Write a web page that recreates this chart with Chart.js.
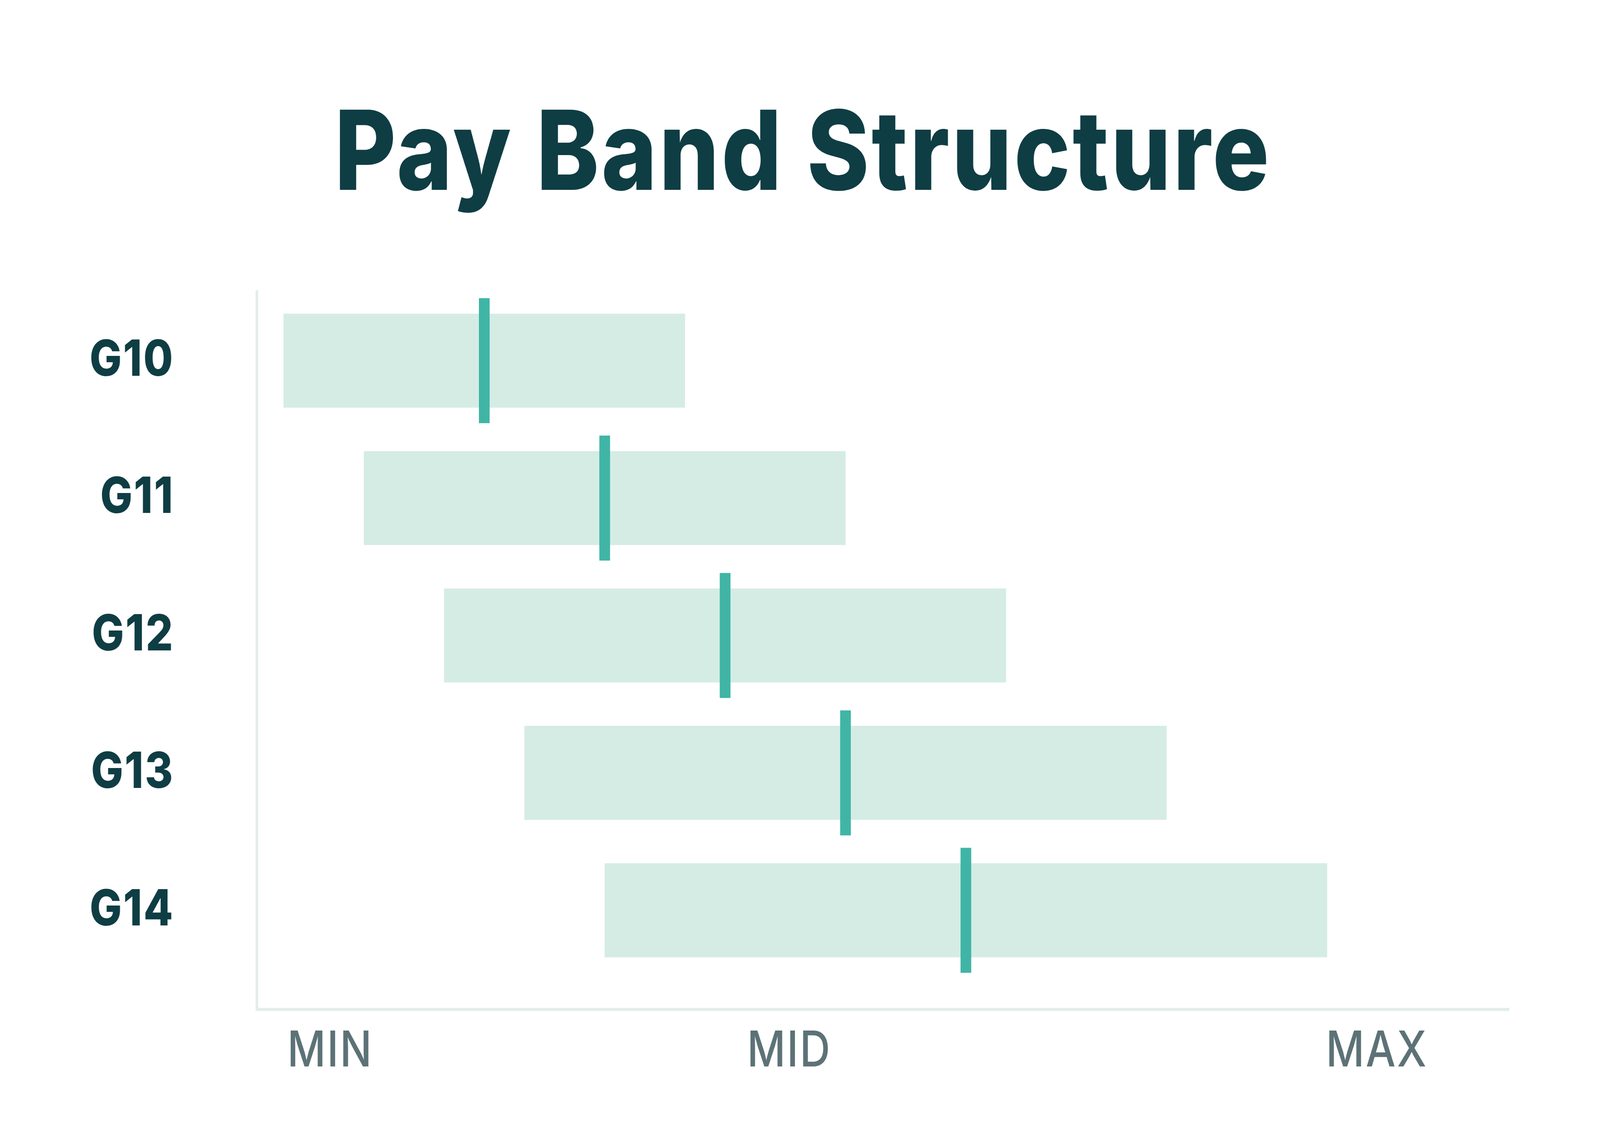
<!DOCTYPE html>
<html>
<head>
<meta charset="utf-8">
<script src="https://cdn.jsdelivr.net/npm/chart.js@4.4.1/dist/chart.umd.min.js"></script>
<style>
  html, body { margin: 0; padding: 0; background: #ffffff; overflow: hidden; width: 100%; height: 100%; }
  #wrap { position: absolute; left: 0; top: 0; width: 4784px; height: 2908px; transform-origin: 0 0; }
  canvas { display: block; }
</style>
</head>
<body>
<div id="wrap"><canvas id="c" width="4784" height="2908" style="width:4784px;height:2908px"></canvas></div>
<script>
// ---- data ----
const grades = ['G10', 'G11', 'G12', 'G13', 'G14'];
const bandMin = [50, 60, 70, 80, 90];
const bandMid = [75, 90, 105, 120, 135];
const bandMax = [100, 120, 140, 160, 180];
const tickLabels = ['MIN', 'MID', 'MAX'];
const tickValues = [55.8, 113, 186.2];
const axisMin = 46.667;
const axisMax = 202.667;

// fit the 4784 x 2908 design into whatever viewport the browser has
const wrap = document.getElementById('wrap');
wrap.style.transform = 'scale(' + (window.innerWidth / 4784) + ',' + (window.innerHeight / 2908) + ')';

const bandData = grades.map((g, i) => ({ y: i, x: [bandMin[i], bandMax[i]] }));
const midData = grades.map((g, i) => ({ y: i, x: bandMid[i] }));

const DARK = '#0f3d44';

// letter spacing: title tracked a little, tick labels slightly
const spacingPlugin = {
  id: 'spacing',
  beforeDraw(chart) { chart.ctx.letterSpacing = '7px'; },
  beforeDatasetsDraw(chart) { chart.ctx.letterSpacing = '0px'; },
  afterDatasetsDraw(chart) { chart.ctx.letterSpacing = '4px'; },
  afterDraw(chart) { chart.ctx.letterSpacing = '0px'; }
};

new Chart(document.getElementById('c'), {
  type: 'bar',
  plugins: [spacingPlugin],
  data: {
    datasets: [
      {
        type: 'scatter', data: midData, order: 0, showLine: false, clip: false,
        pointStyle: 'line', pointRadius: 160, pointHoverRadius: 160, pointRotation: 90,
        pointBorderWidth: 32, pointHoverBorderWidth: 32,
        pointBorderColor: '#40b5a6', pointBackgroundColor: '#40b5a6'
      },
      {
        type: 'bar', indexAxis: 'y', data: bandData, order: 1,
        barThickness: 240, backgroundColor: '#d5ece5', borderWidth: 0
      }
    ]
  },
  options: {
    indexAxis: 'y',
    responsive: false,
    devicePixelRatio: 1,
    animation: false,
    events: [],
    layout: { padding: { left: 18, right: 0, top: 0, bottom: 0 } },
    plugins: {
      legend: { display: false },
      tooltip: { enabled: false },
      title: {
        display: true, text: 'Pay Band Structure', color: DARK,
        font: { family: 'Inter', size: 282, weight: '800', lineHeight: 1.2 },
        padding: { top: 232, bottom: 177 }
      }
    },
    scales: {
      x: {
        type: 'linear', position: 'bottom', offset: false, beginAtZero: false, grace: 0, bounds: 'data',
        min: axisMin, max: axisMax,
        grid: { display: false, drawTicks: false, offset: false },
        border: { display: true, color: '#e3eeec', width: 8 },
        afterBuildTicks: s => { s.ticks = tickValues.map(v => ({ value: v })); },
        afterFit: s => { s.height = 280; },
        ticks: {
          z: 1, autoSkip: false, maxRotation: 0, padding: 32, color: '#5c7276',
          font: { family: 'Inter', size: 126, weight: '500' },
          callback: (v, i) => tickLabels[i]
        }
      },
      y: {
        type: 'linear', position: 'left', reverse: true, offset: false, beginAtZero: false, grace: 0, bounds: 'data',
        min: -0.5, max: 4.7222,
        grid: { display: false, drawTicks: false, offset: false },
        border: { display: true, color: '#e3eeec', width: 8 },
        afterBuildTicks: s => { s.ticks = grades.map((g, i) => ({ value: i })); },
        afterFit: s => { s.width = 750; },
        ticks: {
          z: 1, autoSkip: false, padding: 247, color: DARK,
          font: { family: 'Inter', size: 128, weight: '800' },
          callback: (v, i) => grades[i]
        }
      },
      yRight: {
        type: 'linear', position: 'right', display: true, min: 0, max: 1,
        grid: { display: false, drawTicks: false },
        border: { display: false },
        ticks: { display: false },
        afterFit: s => { s.width = 272; }
      }
    }
  }
});
</script>
</body>
</html>
